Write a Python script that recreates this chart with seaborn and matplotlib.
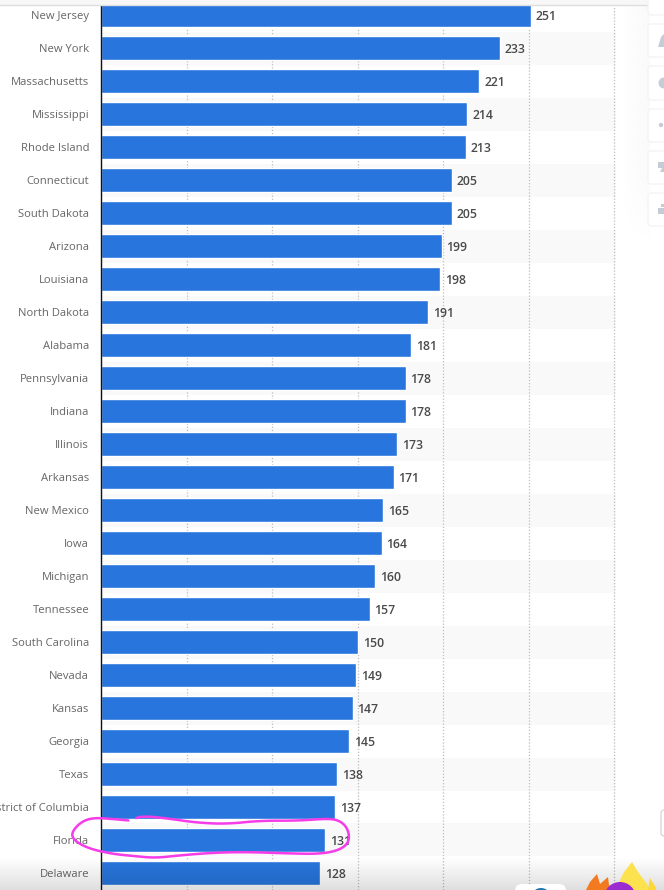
import numpy as np
import pandas as pd
import matplotlib
matplotlib.use("Agg")
import matplotlib.pyplot as plt
from matplotlib.patches import FancyBboxPatch, Circle, Polygon, Rectangle
import seaborn as sns

states = ["New Jersey", "New York", "Massachusetts", "Mississippi", "Rhode Island",
          "Connecticut", "South Dakota", "Arizona", "Louisiana", "North Dakota",
          "Alabama", "Pennsylvania", "Indiana", "Illinois", "Arkansas",
          "New Mexico", "Iowa", "Michigan", "Tennessee", "South Carolina",
          "Nevada", "Kansas", "Georgia", "Texas", "District of Columbia",
          "Florida", "Delaware"]
values = [251, 233, 221, 214, 213, 205, 205, 199, 198, 191, 181, 178, 178, 173,
          171, 165, 164, 160, 157, 150, 149, 147, 145, 138, 137, 131, 128]
grid_ticks = [0, 50, 100, 150, 200, 250, 300]

W, H = 664, 890
BLUE = "#2876dd"
ICON = "#c6ccd6"


def px_x(x):
    return x / W


def px_y(y):
    return 1 - y / H


# corner cutting so the hand drawn loop is not jagged
def smooth(points, rounds=3):
    pts = np.array(points, dtype=float)
    for _ in range(rounds):
        q = pts[:-1] * 0.75 + pts[1:] * 0.25
        r = pts[:-1] * 0.25 + pts[1:] * 0.75
        new = np.empty((len(q) * 2, 2))
        new[0::2] = q
        new[1::2] = r
        pts = new
    return pts


sns.set_theme(style="white")
plt.rcParams["font.family"] = ["Open Sans", "DejaVu Sans"]

df = pd.DataFrame({"state": states, "value": values})

fig = plt.figure(figsize=(W / 100, H / 100), dpi=100)
fig.patch.set_facecolor("white")

# ------------------- bars ----------------------
ax = fig.add_axes([px_x(101), 0, px_x(615.5 - 101), px_y(5)])
sns.barplot(data=df, y="state", x="value", orient="h", color=BLUE, saturation=1,
            width=0.7, ax=ax, zorder=3)

for i in range(1, len(states), 2):
    ax.axhspan(i - 0.5, i + 0.5, color="#f9f9f9", lw=0, zorder=0)

ax.set_xlim(0, 300.6)
ax.set_ylim((890 - 15) / 33, (5 - 15) / 33)
ax.set_xlabel("")
ax.set_ylabel("")
ax.set_xticks(grid_ticks)
ax.set_xticklabels([])
ax.tick_params(axis="x", length=0)
ax.tick_params(axis="y", length=0, pad=8.5, labelsize=8.1, labelcolor="#666666")
ax.xaxis.grid(True, color="#bdbdbd", linestyle=(0, (1, 1.5)), linewidth=0.9, zorder=1)
ax.yaxis.grid(False)
ax.set_axisbelow(True)
sns.despine(ax=ax, top=True, right=True, bottom=True)
ax.spines["left"].set_color("#111111")
ax.spines["left"].set_linewidth(1.0)
ax.spines["left"].set_zorder(5)

labels = ax.bar_label(ax.containers[0], labels=[str(v) for v in values], padding=3.5,
                      fontsize=8.8, color="#4a4a4a", fontweight="semibold", zorder=6)
for t in labels:
    t.xyann = (3.5, -0.8)

# ------------------- page bits over the chart ----------------------
over = fig.add_axes([0, 0, 1, 1], zorder=10)
over.axis("off")
over.patch.set_alpha(0)

# shadow coming up from the dock
shade = np.zeros((40, 2, 4))
shade[..., 3] = np.linspace(0, 0.13, 40)[:, None]
over.imshow(shade, extent=[0, W, 890, 857], aspect="auto", zorder=2, interpolation="bilinear")

# soft glow left of the side buttons, fading out downwards too
glow = np.zeros((40, 30, 4))
glow[..., :3] = 0.6
fade_down = np.clip((40 - np.arange(40)) / 12, 0, 1)
glow[..., 3] = np.outer(fade_down, np.linspace(0, 0.05, 30))
over.imshow(glow, extent=[620, 650, 240, 6], aspect="auto", zorder=2, interpolation="bilinear")

over.set_xlim(0, W)
over.set_ylim(H, 0)

# browser strip at the top
over.fill_between([0, W], 0, 5, color="#f7f7f7", lw=0, zorder=3)
over.plot([0, W], [5.3, 5.3], color="#dedede", lw=1, zorder=3)

# side buttons
for top, bottom in [(-10, 15), (24, 57), (66, 100), (109, 142), (151, 184), (193, 226)]:
    over.add_patch(FancyBboxPatch((648, top), 40, bottom - top, boxstyle="round,pad=0,rounding_size=3",
                                  fc="white", ec="#f1f2f5", lw=0.8, zorder=3))
over.add_patch(Polygon([[658, 47], [661, 37], [664, 34], [664, 47]], fc=ICON, ec="none", zorder=4))
over.add_patch(Circle((664, 83), 5.5, fc=ICON, ec="none", zorder=4))
over.add_patch(Circle((661, 125), 2.2, fc=ICON, ec="none", zorder=4))
over.add_patch(Polygon([[658, 162], [664, 162], [664, 172], [660, 172], [662, 168], [658, 168]],
                       fc=ICON, ec="none", zorder=4))
over.add_patch(Rectangle((658, 208), 6, 6, fc=ICON, ec="none", zorder=4))
over.add_patch(Rectangle((661, 204), 3, 3, fc=ICON, ec="none", zorder=4))
over.add_patch(FancyBboxPatch((661, 810), 20, 26, boxstyle="round,pad=0,rounding_size=3",
                              fc="white", ec="#d9d9d9", lw=1, zorder=3))

# dock icons
over.add_patch(FancyBboxPatch((515, 884), 51, 20, boxstyle="round,pad=0,rounding_size=7",
                              fc="white", ec="none", zorder=3))
over.add_patch(Circle((541, 898), 10, fc="#1f78b4", ec="none", zorder=4))
over.add_patch(Polygon([[586, 890], [590, 882], [597, 874], [600, 884], [608, 877], [609, 885], [614, 890]],
                       fc="#f47a20", ec="none", zorder=4))
over.add_patch(Polygon([[618, 884], [624, 872], [632, 862], [638, 872], [647, 884], [650, 890], [620, 890]],
                       fc="#fde24f", ec="none", zorder=4))
over.add_patch(Polygon([[648, 890], [650, 878], [656, 888], [656, 890]], fc="#fdd835", ec="none", zorder=4))
over.add_patch(Circle((620, 898), 16, fc="#9a2bd0", ec="none", zorder=5))

# pink loop around Florida
loop = [(412, 124), (340, 117), (280, 113), (245, 125), (220, 150), (215, 170), (235, 190),
        (275, 208), (340, 222), (400, 228), (465, 234), (540, 226), (640, 218), (740, 216),
        (860, 220), (960, 222), (1020, 210), (1048, 185), (1045, 150), (1025, 125), (990, 115),
        (900, 122), (780, 122), (680, 132), (590, 128), (500, 115), (430, 108), (395, 118)]
loop = smooth([(x / 3, 780 + y / 3) for x, y in loop], rounds=2)
over.plot(loop[:, 0], loop[:, 1], color="#f53ce8", lw=1.8, solid_capstyle="round", zorder=6)

fig.savefig("out.png", dpi=100)
